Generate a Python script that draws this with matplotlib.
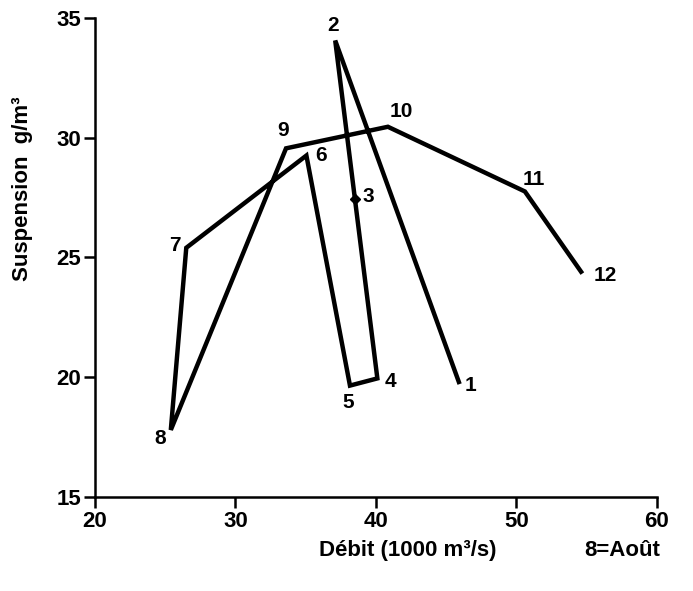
import matplotlib
matplotlib.use("Agg")
import matplotlib.pyplot as plt

# monthly points (1..12), Débit vs Suspension
months = ['1', '2', '3', '4', '5', '6', '7', '8', '9', '10', '11', '12']
debit = [45.9, 37.1, 38.5, 40.1, 38.15, 35.05, 26.5, 25.4, 33.6, 40.85, 50.6, 54.6]
suspension = [19.8, 34.05, 27.45, 19.95, 19.65, 29.25, 25.4, 17.8, 29.55, 30.45, 27.75, 24.4]

# label offsets (pixels) for the month numbers
offsets = {
    '1': (12, -4), '2': (-2, 15), '3': (13, 2), '4': (13, -3),
    '5': (-2, -17), '6': (15, 0), '7': (-11, 2), '8': (-11, -9),
    '9': (-3, 18), '10': (13, 15), '11': (9, 12), '12': (24, -4),
}

plt.rcParams['font.family'] = ['Liberation Sans', 'DejaVu Sans']

fig = plt.figure(figsize=(6.93, 5.91), dpi=100)
ax = fig.add_axes([0.137, 0.159, 0.811, 0.811])

ax.plot(debit, suspension, color='black', lw=3.2, solid_joinstyle='miter')
ax.plot(debit[2], suspension[2], marker='D', color='black', ms=5)

for m, x, y in zip(months, debit, suspension):
    dx, dy = offsets[m]
    ax.annotate(m, (x, y), xytext=(dx, dy), textcoords='offset pixels',
                ha='center', va='center', fontsize=15, fontweight='bold')

ax.set_xlim(20, 60)
ax.set_ylim(15, 35)
ax.set_xticks([20, 30, 40, 50, 60])
ax.set_yticks([15, 20, 25, 30, 35])
ax.spines['top'].set_visible(False)
ax.spines['right'].set_visible(False)
for s in ['left', 'bottom']:
    ax.spines[s].set_linewidth(1.8)
ax.tick_params(direction='out', length=8, width=1.8, pad=2)
for lbl in ax.get_xticklabels() + ax.get_yticklabels():
    lbl.set_fontweight('bold')
    lbl.set_fontsize(16)

fig.text(0.032, 0.68, 'Suspension  g/m³', rotation=90, ha='center', va='center',
         fontsize=16, fontweight='bold')
fig.text(0.589, 0.068, 'Débit (1000 m³/s)', ha='center', va='center',
         fontsize=16, fontweight='bold')
fig.text(0.898, 0.068, '8=Août', ha='center', va='center',
         fontsize=16, fontweight='bold')

fig.savefig('out.png', dpi=100)
